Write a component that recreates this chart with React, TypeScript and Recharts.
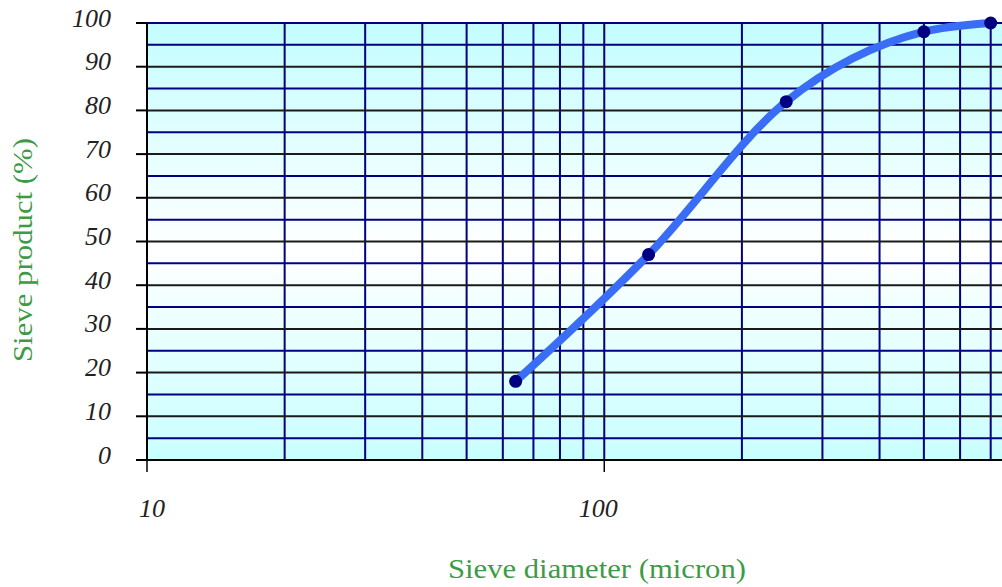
import React from "react";
import { Label, Line, LineChart, ReferenceLine, CartesianGrid, XAxis, YAxis } from "recharts";

// sieve analysis: cumulative passing vs. aperture (log scale)
const sieveSizes = [64, 125, 250, 500, 700];
const passingPct = [18, 47, 82, 98, 100];

const xTicks = [10, 100];
const yTicks = [0, 10, 20, 30, 40, 50, 60, 70, 80, 90, 100];
const xGridLines = [20, 30, 40, 50, 60, 70, 80, 90, 100, 200, 300, 400, 500, 600, 700];
const yMajorLines = [10, 20, 30, 40, 50, 60, 70, 80, 90];
const yMinorLines = [5, 15, 25, 35, 45, 55, 65, 75, 85, 95, 100];

const data = sieveSizes.map((size, i) => ({ size, pass: passingPct[i] }));

const TICK_FONT = "'Liberation Serif', 'Times New Roman', serif";
const TITLE_GREEN = "#3d9b45";
const xLabelShift: Record<number, number> = { 10: 5, 100: -6 };

function YTick(props: any) {
  const { x, y, payload } = props;
  return (
    <text
      x={x}
      y={y - 5}
      textAnchor="end"
      dominantBaseline="central"
      fontFamily={TICK_FONT}
      fontStyle="italic"
      fontSize={26}
      fill="#222"
    >
      {payload.value}
    </text>
  );
}

function XTick(props: any) {
  const { x, y, payload } = props;
  return (
    <text
      x={x + (xLabelShift[payload.value] ?? 0)}
      y={y}
      textAnchor="middle"
      dominantBaseline="central"
      fontFamily={TICK_FONT}
      fontStyle="italic"
      fontSize={26}
      fill="#222"
    >
      {payload.value}
    </text>
  );
}

export default function App() {
  return (
    <div style={{ position: "absolute", left: 0, top: 0, width: 1002, height: 587, background: "#fff" }}>
      <LineChart width={1002} height={587} data={data} margin={{ top: 23, right: 0, bottom: 0, left: 0 }}>
        <defs>
          <linearGradient id="plotBg" x1="0" y1="0" x2="0" y2="1">
            <stop offset="0%" stopColor="#c3fdff" />
            <stop offset="52%" stopColor="#ffffff" />
            <stop offset="100%" stopColor="#c8ffff" />
          </linearGradient>
        </defs>
        <CartesianGrid horizontal={false} vertical={false} fill="url(#plotBg)" fillOpacity={1} />
        {xGridLines.map((v) => (
          <ReferenceLine key={`x${v}`} x={v} stroke="#000080" strokeWidth={2} />
        ))}
        {yMinorLines.map((v) => (
          <ReferenceLine key={`m${v}`} y={v} stroke="#000080" strokeWidth={2} />
        ))}
        {yMajorLines.map((v) => (
          <ReferenceLine key={`M${v}`} y={v} stroke="#1a1a1a" strokeWidth={2} />
        ))}
        <XAxis
          dataKey="size"
          type="number"
          scale="log"
          domain={[10, 741]}
          allowDataOverflow
          ticks={xTicks}
          height={127}
          tickSize={12}
          tickMargin={36}
          tick={<XTick />}
          axisLine={{ stroke: "#000", strokeWidth: 2 }}
          tickLine={{ stroke: "#000", strokeWidth: 1.5 }}
        >
          <Label
            content={() => (
              <text
                x={448}
                y={578}
                textLength={298}
                lengthAdjust="spacingAndGlyphs"
                fontFamily={TICK_FONT}
                fontSize={27}
                fill={TITLE_GREEN}
              >
                Sieve diameter (micron)
              </text>
            )}
          />
        </XAxis>
        <YAxis
          type="number"
          domain={[0, 100]}
          ticks={yTicks}
          width={147}
          tickSize={11}
          tickMargin={25}
          tick={<YTick />}
          axisLine={{ stroke: "#000", strokeWidth: 2 }}
          tickLine={{ stroke: "#000", strokeWidth: 2 }}
        >
          <Label
            content={() => (
              <text
                transform="translate(32, 362) rotate(-90)"
                textLength={224}
                lengthAdjust="spacingAndGlyphs"
                fontFamily={TICK_FONT}
                fontSize={28}
                fill={TITLE_GREEN}
              >
                Sieve product (%)
              </text>
            )}
          />
        </YAxis>
        <Line
          type="monotone"
          dataKey="pass"
          stroke="#3a6df5"
          strokeWidth={8}
          dot={{ r: 6.5, fill: "#000080", stroke: "#000080", strokeWidth: 0 }}
          activeDot={false}
          isAnimationActive={false}
        />
      </LineChart>
    </div>
  );
}
